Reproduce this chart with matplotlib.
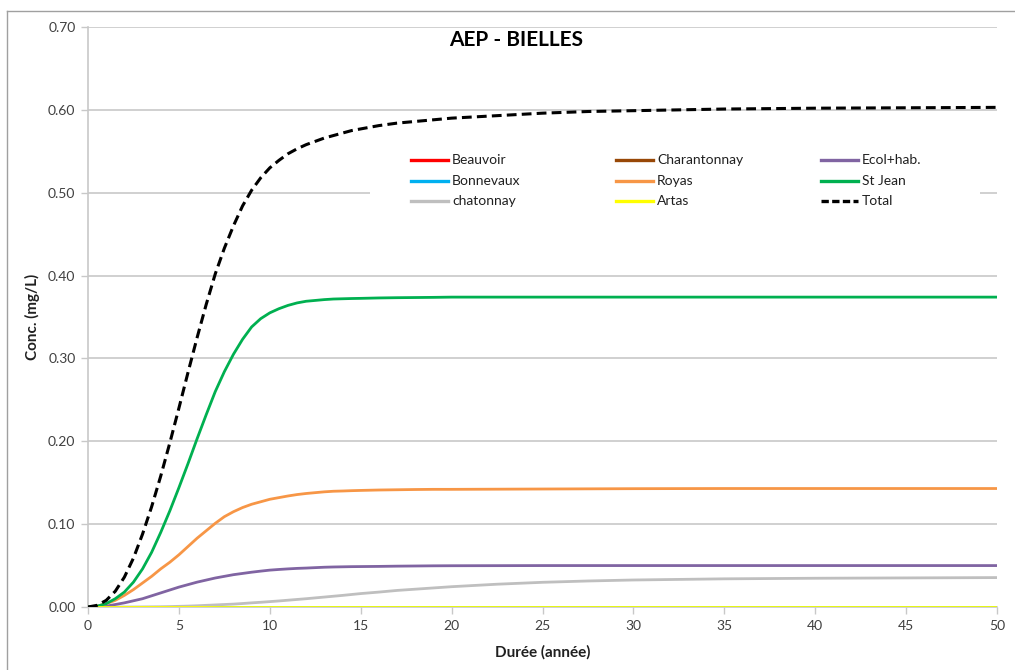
import matplotlib
matplotlib.use("Agg")
import matplotlib.pyplot as plt
from matplotlib.lines import Line2D
from matplotlib.patches import Rectangle

plt.rcParams["font.family"] = ["Lato", "DejaVu Sans"]

W, H = 1015, 670

# durée (année)
X = [0, 0.5, 1, 1.5, 2, 2.5, 3, 3.5, 4, 4.5, 5, 5.5, 6, 6.5, 7, 7.5, 8, 8.5, 9,
     9.5, 10, 10.5, 11, 11.5, 12, 12.5, 13, 13.5, 14, 14.5, 15,
     16, 17, 18, 19, 20, 22.5, 25, 27.5, 30, 35, 40, 45, 50]

BEAUVOIR = [0.0] * len(X)
CHARANTONNAY = [0.0] * len(X)
BONNEVAUX = [0.0] * len(X)
ARTAS = [0.0] * len(X)

ECOL_HAB = [0, 0.0003, 0.001, 0.003, 0.005, 0.0075, 0.010, 0.0135, 0.017,
            0.0205, 0.024, 0.027, 0.030, 0.0325, 0.035, 0.037, 0.039, 0.0405,
            0.042, 0.0433, 0.0445, 0.0453, 0.046, 0.0466, 0.047, 0.0475, 0.048,
            0.0483, 0.0485, 0.0487, 0.0488,
            0.049, 0.0493, 0.0495, 0.0497, 0.0498, 0.0499, 0.050, 0.050, 0.050,
            0.050, 0.050, 0.050, 0.050]
ROYAS = [0, 0.001, 0.004, 0.008, 0.014, 0.021, 0.029, 0.037, 0.046, 0.054,
         0.063, 0.073, 0.083, 0.092, 0.101, 0.109, 0.115, 0.120, 0.124, 0.127,
         0.130, 0.132, 0.134, 0.1357, 0.137, 0.138, 0.139, 0.1397, 0.140,
         0.1404, 0.1407,
         0.1412, 0.1415, 0.1418, 0.142, 0.142, 0.1422, 0.1424, 0.1426, 0.1428,
         0.143, 0.143, 0.143, 0.143]
ST_JEAN = [0, 0.001, 0.004, 0.010, 0.018, 0.030, 0.046, 0.066, 0.090, 0.116,
           0.144, 0.173, 0.203, 0.232, 0.260, 0.284, 0.305, 0.323, 0.338, 0.348,
           0.355, 0.360, 0.364, 0.367, 0.369, 0.370, 0.371, 0.3717, 0.372,
           0.3723, 0.3725,
           0.373, 0.3733, 0.3735, 0.3737, 0.374, 0.374, 0.374, 0.374, 0.374,
           0.374, 0.374, 0.374, 0.374]
CHATONNAY = [0, 0, 0, 0, 0, 0, 0.0001, 0.0002, 0.0003, 0.0005, 0.0008, 0.0011,
             0.0015, 0.002, 0.0025, 0.003, 0.0035, 0.0042, 0.005, 0.0057, 0.0065,
             0.0073, 0.0082, 0.0091, 0.010, 0.011, 0.012, 0.013, 0.014, 0.0151,
             0.0162,
             0.018, 0.020, 0.0215, 0.023, 0.0245, 0.0275, 0.0298, 0.0314, 0.0326,
             0.034, 0.0347, 0.0351, 0.0355]
TOTAL = [0, 0.002, 0.008, 0.019, 0.036, 0.059, 0.088, 0.121, 0.158, 0.198,
         0.240, 0.283, 0.325, 0.365, 0.402, 0.433, 0.460, 0.484, 0.503, 0.518,
         0.530, 0.539, 0.547, 0.553, 0.558, 0.562, 0.566, 0.569, 0.572, 0.575,
         0.577,
         0.581, 0.584, 0.586, 0.588, 0.590, 0.593, 0.596, 0.598, 0.599, 0.601,
         0.602, 0.6025, 0.603]

# (label, values, colour, dashed) laid out in the legend as 3 rows x 3 columns
SERIES = [
    ("Beauvoir", BEAUVOIR, "#FF0000", False),
    ("Charantonnay", CHARANTONNAY, "#984807", False),
    ("Ecol+hab.", ECOL_HAB, "#8064A2", False),
    ("Bonnevaux", BONNEVAUX, "#00B0F0", False),
    ("Royas", ROYAS, "#F79646", False),
    ("St Jean", ST_JEAN, "#00B050", False),
    ("chatonnay", CHATONNAY, "#BFBFBF", False),
    ("Artas", ARTAS, "#FFFF00", False),
    ("Total", TOTAL, "#000000", True),
]
DRAW_ORDER = ["Beauvoir", "Charantonnay", "Bonnevaux", "chatonnay", "Ecol+hab.",
              "Royas", "St Jean", "Artas", "Total"]

GRID = "#C8C8C8"
TXT = "#404040"
DASH = (0, (3.2, 1.7))

fig = plt.figure(figsize=(W / 100, H / 100), dpi=100)
ax = fig.add_axes([88 / W, 1 - 607 / H, (997 - 88) / W, (607 - 27) / H])

lookup = {s[0]: s for s in SERIES}
for name in DRAW_ORDER:
    label, vals, col, dashed = lookup[name]
    if dashed:
        ax.plot(X, vals, color=col, lw=2.2, ls=DASH, zorder=5)
    else:
        ax.plot(X, vals, color=col, lw=2.0, zorder=4)

ax.set_xlim(0, 50)
ax.set_ylim(0, 0.70)
ax.set_xticks(range(0, 51, 5))
ax.set_yticks([i / 10 for i in range(8)])
ax.set_yticklabels([f"{i / 10:.2f}" for i in range(8)])
ax.yaxis.grid(True, color=GRID, lw=1.2)
ax.set_axisbelow(True)
for side in ("top", "right"):
    ax.spines[side].set_visible(False)
for side in ("left", "bottom"):
    ax.spines[side].set_color(GRID)
    ax.spines[side].set_linewidth(1.2)
ax.tick_params(axis="both", colors=GRID, length=5, width=1.0, labelsize=10,
               labelcolor=TXT, pad=4)

ax.set_xlabel("Durée (année)", fontsize=11, fontweight="bold", color="#202020",
              labelpad=10)
ax.set_ylabel("Conc. (mg/L)", fontsize=11, fontweight="bold", color="#202020",
              labelpad=6)
ax.text(0.471, (607 - 40) / 580, "AEP - BIELLES", transform=ax.transAxes,
        ha="center", va="center", fontsize=15, fontweight="bold", color="#000000")


def fx(px):
    return px / W


def fy(py):
    return 1 - py / H


# legend drawn by hand on a white box (3 x 3 grid like the original)
fig.add_artist(Rectangle((fx(370), fy(212)), fx(980) - fx(370), fy(145) - fy(212),
                         facecolor="white", edgecolor="none", zorder=6))
col_x = [411, 616, 821]
row_y = [160, 181, 201]
for i, (label, vals, col, dashed) in enumerate(SERIES):
    r, c = divmod(i, 3)
    x0, y0 = col_x[c], row_y[r]
    fig.add_artist(Line2D([fx(x0), fx(x0 + 37)], [fy(y0), fy(y0)], color=col,
                          lw=2.4, ls=(0, (2.2, 1.0)) if dashed else "-", zorder=7))
    fig.text(fx(x0 + 41), fy(y0), label, ha="left", va="center", fontsize=10,
             color="#202020", zorder=7)

# outer chart border (top and left edges visible)
fig.add_artist(Line2D([fx(7), 1.0], [fy(11)] * 2, color="#A0A0A0", lw=1.0))
fig.add_artist(Line2D([fx(7)] * 2, [0.0, fy(11)], color="#A0A0A0", lw=1.0))

fig.savefig("out.png", dpi=100)
